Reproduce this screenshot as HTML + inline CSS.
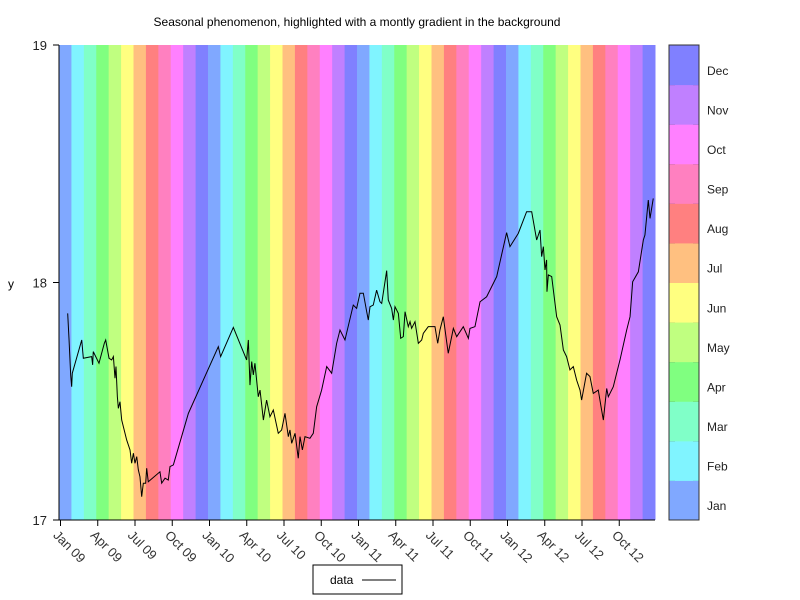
<!DOCTYPE html>
<html><head><meta charset="utf-8"><style>
body{margin:0;background:#fff}
svg{display:block;font-family:"Liberation Sans",sans-serif}
</style></head><body>
<svg id="c" width="800" height="600" xmlns="http://www.w3.org/2000/svg">
<text x="357" y="26" font-size="12" text-anchor="middle">Seasonal phenomenon, highlighted with a montly gradient in the background</text>
<g id="stripes"></g>
<g id="series"></g>
<g id="axes"></g>
<g id="cbar"></g>
<text x="11" y="288" font-size="12" text-anchor="middle">y</text>
<g>
<rect x="313" y="565" width="89" height="29" fill="#fff" stroke="#000"/>
<text x="330" y="584" font-size="12">data</text>
<line x1="362" y1="580" x2="396" y2="580" stroke="#000"/>
</g>
</svg>
<script>
const monthNames=["Jan","Feb","Mar","Apr","May","Jun","Jul","Aug","Sep","Oct","Nov","Dec"];
const monthColors=["#80a8ff","#80f4ff","#80ffc8","#80ff80","#c0ff80","#ffff80","#ffc080","#ff8080","#ff80c0","#ff80ff","#c080ff","#8080ff"];
const yTicks=[17,18,19];
const xTickMonths=[0,3,6,9,12,15,18,21,24,27,30,33,36,39,42,45];
const xTickLabels=["Jan 09","Apr 09","Jul 09","Oct 09","Jan 10","Apr 10","Jul 10","Oct 10","Jan 11","Apr 11","Jul 11","Oct 11","Jan 12","Apr 12","Jul 12","Oct 12"];
const seriesT=[0.70,0.81,0.94,1.02,1.07,1.83,1.96,2.63,2.71,2.76,3.22,3.65,3.76,4.03,4.24,4.38,4.51,4.59,4.70,4.78,4.91,5.05,5.45,5.72,5.85,5.99,6.12,6.26,6.39,6.52,6.66,6.79,6.98,7.06,7.19,8.13,8.27,8.54,8.80,8.94,9.21,10.42,12.83,13.02,14.04,15.11,15.25,15.38,15.52,15.65,15.78,16.05,16.19,16.46,16.72,16.99,17.26,17.66,17.93,18.20,18.47,18.60,18.74,19.01,19.27,19.41,19.60,19.81,20.21,20.48,20.75,21.15,21.56,21.96,22.36,22.63,23.03,23.70,23.97,24.24,24.51,24.78,24.91,25.05,25.31,25.58,25.85,25.99,26.39,26.52,26.79,26.93,27.06,27.33,27.52,27.73,27.87,28.13,28.27,28.40,28.67,28.94,29.21,29.34,29.74,30.28,30.50,30.68,30.95,31.22,31.35,31.76,32.03,32.56,32.97,33.10,33.50,33.91,34.44,35.25,36.05,36.32,36.99,37.66,38.07,38.47,38.74,38.87,39.01,39.14,39.27,39.30,39.41,39.68,40.08,40.35,40.62,40.88,41.15,41.42,41.69,41.96,42.09,42.49,42.76,43.03,43.43,43.70,43.84,44.11,44.24,44.64,44.91,45.18,45.72,45.99,46.20,46.66,47.06,47.19,47.46,47.60,47.86];
const seriesV=[17.870,17.758,17.611,17.561,17.618,17.758,17.681,17.688,17.653,17.709,17.660,17.744,17.758,17.681,17.674,17.688,17.597,17.646,17.519,17.470,17.498,17.421,17.337,17.295,17.239,17.281,17.239,17.267,17.211,17.182,17.098,17.155,17.155,17.218,17.161,17.203,17.155,17.176,17.168,17.225,17.232,17.449,17.730,17.688,17.811,17.674,17.758,17.568,17.667,17.611,17.660,17.519,17.547,17.421,17.505,17.435,17.463,17.365,17.379,17.449,17.351,17.379,17.323,17.365,17.260,17.351,17.295,17.351,17.344,17.365,17.477,17.547,17.646,17.618,17.744,17.800,17.758,17.905,17.891,17.955,17.955,17.877,17.842,17.898,17.905,17.968,17.919,17.912,18.050,17.926,17.891,17.842,17.898,17.870,17.765,17.772,17.877,17.814,17.835,17.807,17.835,17.744,17.758,17.786,17.814,17.814,17.744,17.800,17.856,17.751,17.702,17.807,17.772,17.814,17.765,17.807,17.814,17.919,17.940,18.025,18.210,18.151,18.207,18.298,18.298,18.179,18.221,18.109,18.151,18.053,18.095,17.961,18.032,18.025,17.856,17.821,17.716,17.688,17.632,17.646,17.589,17.547,17.505,17.618,17.604,17.533,17.547,17.463,17.421,17.554,17.519,17.561,17.618,17.674,17.800,17.856,18.003,18.045,18.179,18.200,18.347,18.270,18.354];
const NS="http://www.w3.org/2000/svg";
const L=59,R=655,T=45,B=520,XMAX=48,YMIN=17,YMAX=19;
const X=m=>L+(R-L)*m/XMAX, Y=v=>B-(B-T)*(v-YMIN)/(YMAX-YMIN);
function mk(tag,at,parent){const e=document.createElementNS(NS,tag);for(const k in at)e.setAttribute(k,at[k]);parent.appendChild(e);return e;}
const st=document.getElementById('stripes'),se=document.getElementById('series'),ax=document.getElementById('axes'),cb=document.getElementById('cbar');
for(let m=0;m<XMAX;m++){const r=mk('rect',{x:X(m),y:T,width:X(m+1)-X(m)+0.5,height:B-T,fill:monthColors[m%12]},st);

}
let d=seriesT.map((t,i)=>(i?'L':'M')+X(t).toFixed(2)+' '+Y(seriesV[i]).toFixed(2)).join(' ');
const p=mk('path',{d:d,fill:'none',stroke:'#000','stroke-width':1},se);


const la=mk('line',{x1:L,y1:T,x2:L,y2:B+0.5,stroke:'#000'},ax);


const ba=mk('line',{x1:L,y1:B,x2:R,y2:B,stroke:'#000'},ax);


yTicks.forEach(v=>{mk('line',{x1:53,y1:Y(v),x2:L,y2:Y(v),stroke:'#000'},ax);
const t=mk('text',{x:47,y:Y(v)+5,'font-size':13,'text-anchor':'end',fill:'#222'},ax);t.textContent=v;

});
xTickMonths.forEach((m,i)=>{const x=X(m)+1.5;mk('line',{x1:x,y1:B,x2:x,y2:B+6,stroke:'#000'},ax);
const t=mk('text',{x:x-8,y:B+16,'font-size':13,fill:'#333',transform:'rotate(45 '+(x-8)+' '+(B+16)+')'},ax);t.textContent=xTickLabels[i];

});
const cx=669,cw=30,seg=(B-T)/12;
for(let i=0;i<12;i++){const y=B-(i+1)*seg;
const r=mk('rect',{x:cx,y:y,width:cw,height:seg+0.5,fill:monthColors[i]},cb);


if(i<11){mk('line',{x1:cx,y1:y,x2:cx+6,y2:y,stroke:'#333'},cb);mk('line',{x1:cx+cw-6,y1:y,x2:cx+cw,y2:y,stroke:'#333'},cb);}
const t=mk('text',{x:707,y:y+seg/2+10,'font-size':12,fill:'#222'},cb);t.textContent=monthNames[i];

}
mk('rect',{x:cx,y:T,width:cw,height:B-T,fill:'none',stroke:'#333'},cb);
</script>
</body></html>
